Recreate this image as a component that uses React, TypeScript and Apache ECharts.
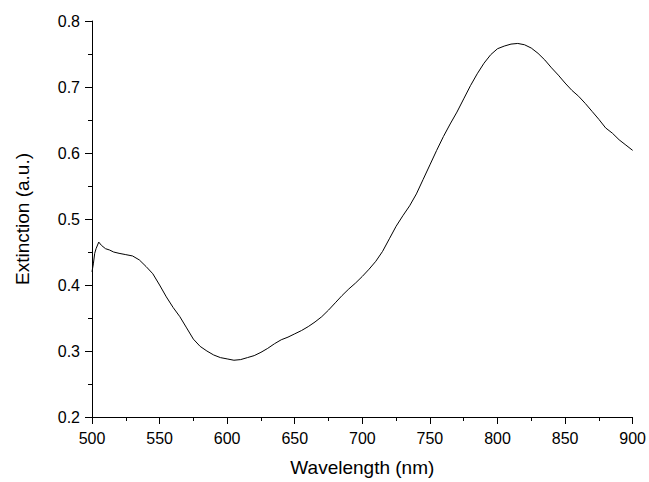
import React, { useEffect, useRef } from "react";
import * as echarts from "echarts";

const wavelengths = [
  500, 501, 502, 503, 505, 507, 510, 513, 516, 520, 525, 530, 535, 540, 545, 550, 555, 560, 565, 570,
  575, 580, 585, 590, 595, 600, 605, 610, 615, 620, 625, 630, 635, 640, 645, 650, 655, 660, 665, 670,
  675, 680, 685, 690, 695, 700, 705, 710, 715, 720, 725, 730, 735, 740, 745, 750, 755, 760, 765, 770,
  775, 780, 785, 790, 795, 800, 805, 810, 815, 820, 825, 830, 835, 840, 845, 850, 855, 860, 865, 870,
  875, 880, 885, 890, 895, 900,
];

const extinction = [
  0.42, 0.432, 0.448, 0.455, 0.465, 0.46, 0.455, 0.453, 0.45, 0.448, 0.446, 0.444, 0.438, 0.428, 0.417, 0.4, 0.382, 0.366, 0.352, 0.335,
  0.318, 0.307, 0.3, 0.294, 0.29, 0.288, 0.286, 0.287, 0.29, 0.293, 0.298, 0.304, 0.311, 0.317, 0.321, 0.326, 0.331, 0.337, 0.344, 0.352,
  0.362, 0.373, 0.384, 0.394, 0.403, 0.413, 0.424, 0.436, 0.451, 0.47, 0.489, 0.505, 0.52, 0.538, 0.56, 0.582, 0.604, 0.625, 0.644, 0.662,
  0.682, 0.702, 0.72, 0.736, 0.749, 0.758, 0.762, 0.765, 0.766, 0.764, 0.759, 0.751, 0.741, 0.729, 0.718, 0.706, 0.695, 0.686, 0.675, 0.663,
  0.651, 0.638, 0.63, 0.62, 0.612, 0.604,
];

const xTitle = "Wavelength (nm)";
const yTitle = "Extinction (a.u.)";

export default function App() {
  const ref = useRef<HTMLDivElement>(null);
  useEffect(() => {
    if (!ref.current) return;
    const chart = echarts.init(ref.current, null, { renderer: "svg" });
    const font = "'Liberation Sans', Arial, sans-serif";
    const axisCommon = {
      axisLine: { show: true, lineStyle: { color: "#000", width: 1 } },
      axisTick: { show: true, inside: false, length: 7, lineStyle: { color: "#000", width: 1 } },
      minorTick: { show: true, splitNumber: 2, length: 4, lineStyle: { color: "#000", width: 1 } },
      splitLine: { show: false },
      axisLabel: { color: "#000", fontSize: 16, fontFamily: font },
      nameTextStyle: { color: "#000", fontSize: 19, fontFamily: font },
    };
    chart.setOption({
      animation: false,
      backgroundColor: "#fff",
      grid: { left: 92, right: 13, top: 21, bottom: 60 },
      xAxis: {
        type: "value",
        min: 500,
        max: 900,
        interval: 50,
        name: xTitle,
        nameLocation: "middle",
        nameGap: 41,
        ...axisCommon,
        axisLabel: { ...axisCommon.axisLabel, margin: 13 },
      },
      yAxis: {
        type: "value",
        min: 0.2,
        max: 0.8,
        interval: 0.1,
        name: yTitle,
        nameLocation: "middle",
        nameGap: 60,
        ...axisCommon,
        axisLabel: { ...axisCommon.axisLabel, margin: 12, formatter: (v: number) => v.toFixed(1) },
      },
      series: [
        {
          type: "line",
          data: wavelengths.map((w, i) => [w, extinction[i]]),
          showSymbol: false,
          symbol: "none",
          lineStyle: { color: "#000", width: 1 },
        },
      ],
    });
    return () => chart.dispose();
  }, []);
  return <div ref={ref} style={{ position: "fixed", left: 0, top: 0, width: 649, height: 482 }} />;
}
